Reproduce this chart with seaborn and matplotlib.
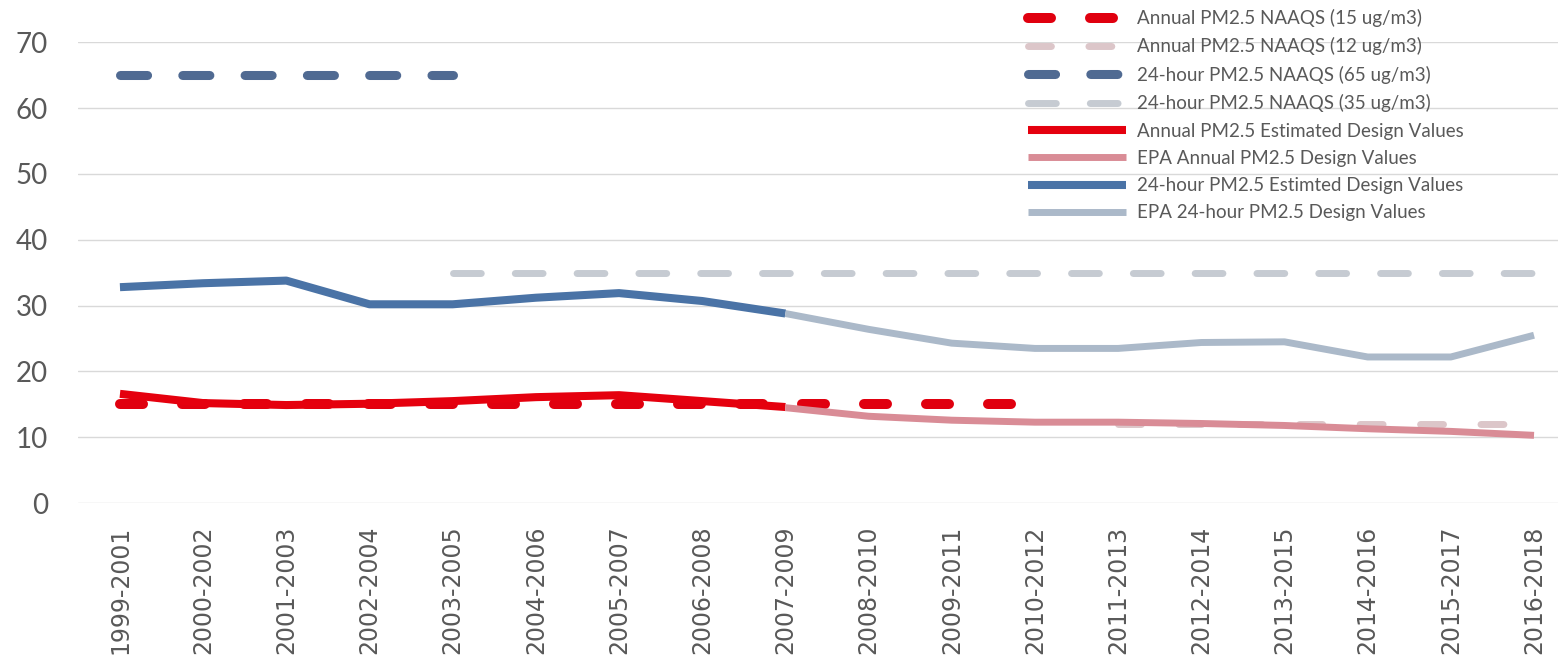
import numpy as np
import pandas as pd
import matplotlib
matplotlib.use("Agg")
import matplotlib.pyplot as plt
import seaborn as sns

# Three-year periods on the category axis
periods = ["1999-2001", "2000-2002", "2001-2003", "2002-2004", "2003-2005",
           "2004-2006", "2005-2007", "2006-2008", "2007-2009", "2008-2010",
           "2009-2011", "2010-2012", "2011-2013", "2012-2014", "2013-2015",
           "2014-2016", "2015-2017", "2016-2018"]

# Design values (ug/m3)
annual_est = [16.6, 15.2, 14.9, 15.1, 15.5, 16.1, 16.4, 15.5, 14.6]          # 1999-2001 .. 2007-2009
annual_epa = [14.5, 13.2, 12.6, 12.3, 12.3, 12.1, 11.8, 11.3, 10.9, 10.3]    # 2007-2009 .. 2016-2018
daily_est = [32.8, 33.4, 33.8, 30.2, 30.2, 31.2, 31.9, 30.7, 28.8]           # 1999-2001 .. 2007-2009
daily_epa = [28.8, 26.4, 24.3, 23.5, 23.5, 24.4, 24.5, 22.2, 22.2, 25.5]     # 2007-2009 .. 2016-2018

# Standards
naaqs_annual_15 = [15] * 12   # 1999-2001 .. 2010-2012
naaqs_annual_12 = [12] * 6    # 2011-2013 .. 2016-2018
naaqs_daily_65 = [65] * 5     # 1999-2001 .. 2003-2005
naaqs_daily_35 = [35] * 14    # 2003-2005 .. 2016-2018

labels = ["Annual PM2.5 NAAQS (15 ug/m3)", "Annual PM2.5 NAAQS (12 ug/m3)",
          "24-hour PM2.5 NAAQS (65 ug/m3)", "24-hour PM2.5 NAAQS (35 ug/m3)",
          "Annual PM2.5 Estimated Design Values", "EPA Annual PM2.5 Design Values",
          "24-hour PM2.5 Estimted Design Values", "EPA 24-hour PM2.5 Design Values"]

pos = {p: i for i, p in enumerate(periods)}

def frame(values, first, last):
    span = periods[periods.index(first):periods.index(last) + 1]
    return pd.DataFrame({"x": [pos[p] for p in span], "y": values})

series = [
    # data, first period, last period, colour, width(pt), dashes, zorder
    (naaqs_annual_15, "1999-2001", "2010-2012", "#e0000f", 7.2, (2.3, 3.9), 3),
    (naaqs_annual_12, "2011-2013", "2016-2018", "#dcc6c9", 5.0, (3.3, 5.4), 2),
    (naaqs_daily_65, "1999-2001", "2003-2005", "#506a92", 6.5, (3.0, 3.9), 2),
    (naaqs_daily_35, "2003-2005", "2016-2018", "#c6cbd2", 5.0, (4.0, 4.9), 2),
    (annual_est, "1999-2001", "2007-2009", "#e5000e", 5.8, None, 4),
    (annual_epa, "2007-2009", "2016-2018", "#d98c96", 5.0, None, 4),
    (daily_est, "1999-2001", "2007-2009", "#4a73a6", 5.8, None, 4),
    (daily_epa, "2007-2009", "2016-2018", "#abb9c9", 5.0, None, 4),
]

sns.set_theme(style="white")
plt.rcParams["font.family"] = ["Lato", "DejaVu Sans"]

fig = plt.figure(figsize=(15.58, 6.70), dpi=100)
ax = fig.add_axes([0.0503, 0.249, 0.961, 0.688])

handles = []
for (vals, a, b, col, lw, dash, z), lab in zip(series, labels):
    df = frame(vals, a, b)
    kw = dict(color=col, linewidth=lw, zorder=z, solid_capstyle="butt")
    if dash is not None:
        kw.update(linestyle=(0, dash), dash_capstyle="round")
    sns.lineplot(data=df, x="x", y="y", ax=ax, label=lab, **kw)
    handles.append(ax.lines[-1])

ax.set_xlim(-0.5, len(periods) - 0.5)
ax.set_ylim(0, 70)
ax.set_yticks(np.arange(0, 71, 10))
ax.set_xticks(range(len(periods)))
ax.set_xticklabels(periods, rotation=90, family="DejaVu Sans", fontsize=17,
                   color="#595959", va="top")
ax.tick_params(axis="x", length=0, pad=16)
ax.tick_params(axis="y", length=0, pad=22, labelsize=20, labelcolor="#595959")
ax.set_xlabel("")
ax.set_ylabel("")
ax.grid(axis="y", color="#d9d9d9", linewidth=1.0)
ax.set_axisbelow(True)
for s in ax.spines.values():
    s.set_visible(False)

ax.legend(handles, labels, loc="upper left",
          bbox_to_anchor=(1028 / 1558, 1 - 9 / 670),
          bbox_transform=fig.transFigure, frameon=False,
          prop={"family": "Lato", "size": 13.5}, labelcolor="#595959",
          handlelength=5.2, handletextpad=0.6, labelspacing=0.55,
          borderpad=0, borderaxespad=0)

fig.savefig("out.png", dpi=100)
